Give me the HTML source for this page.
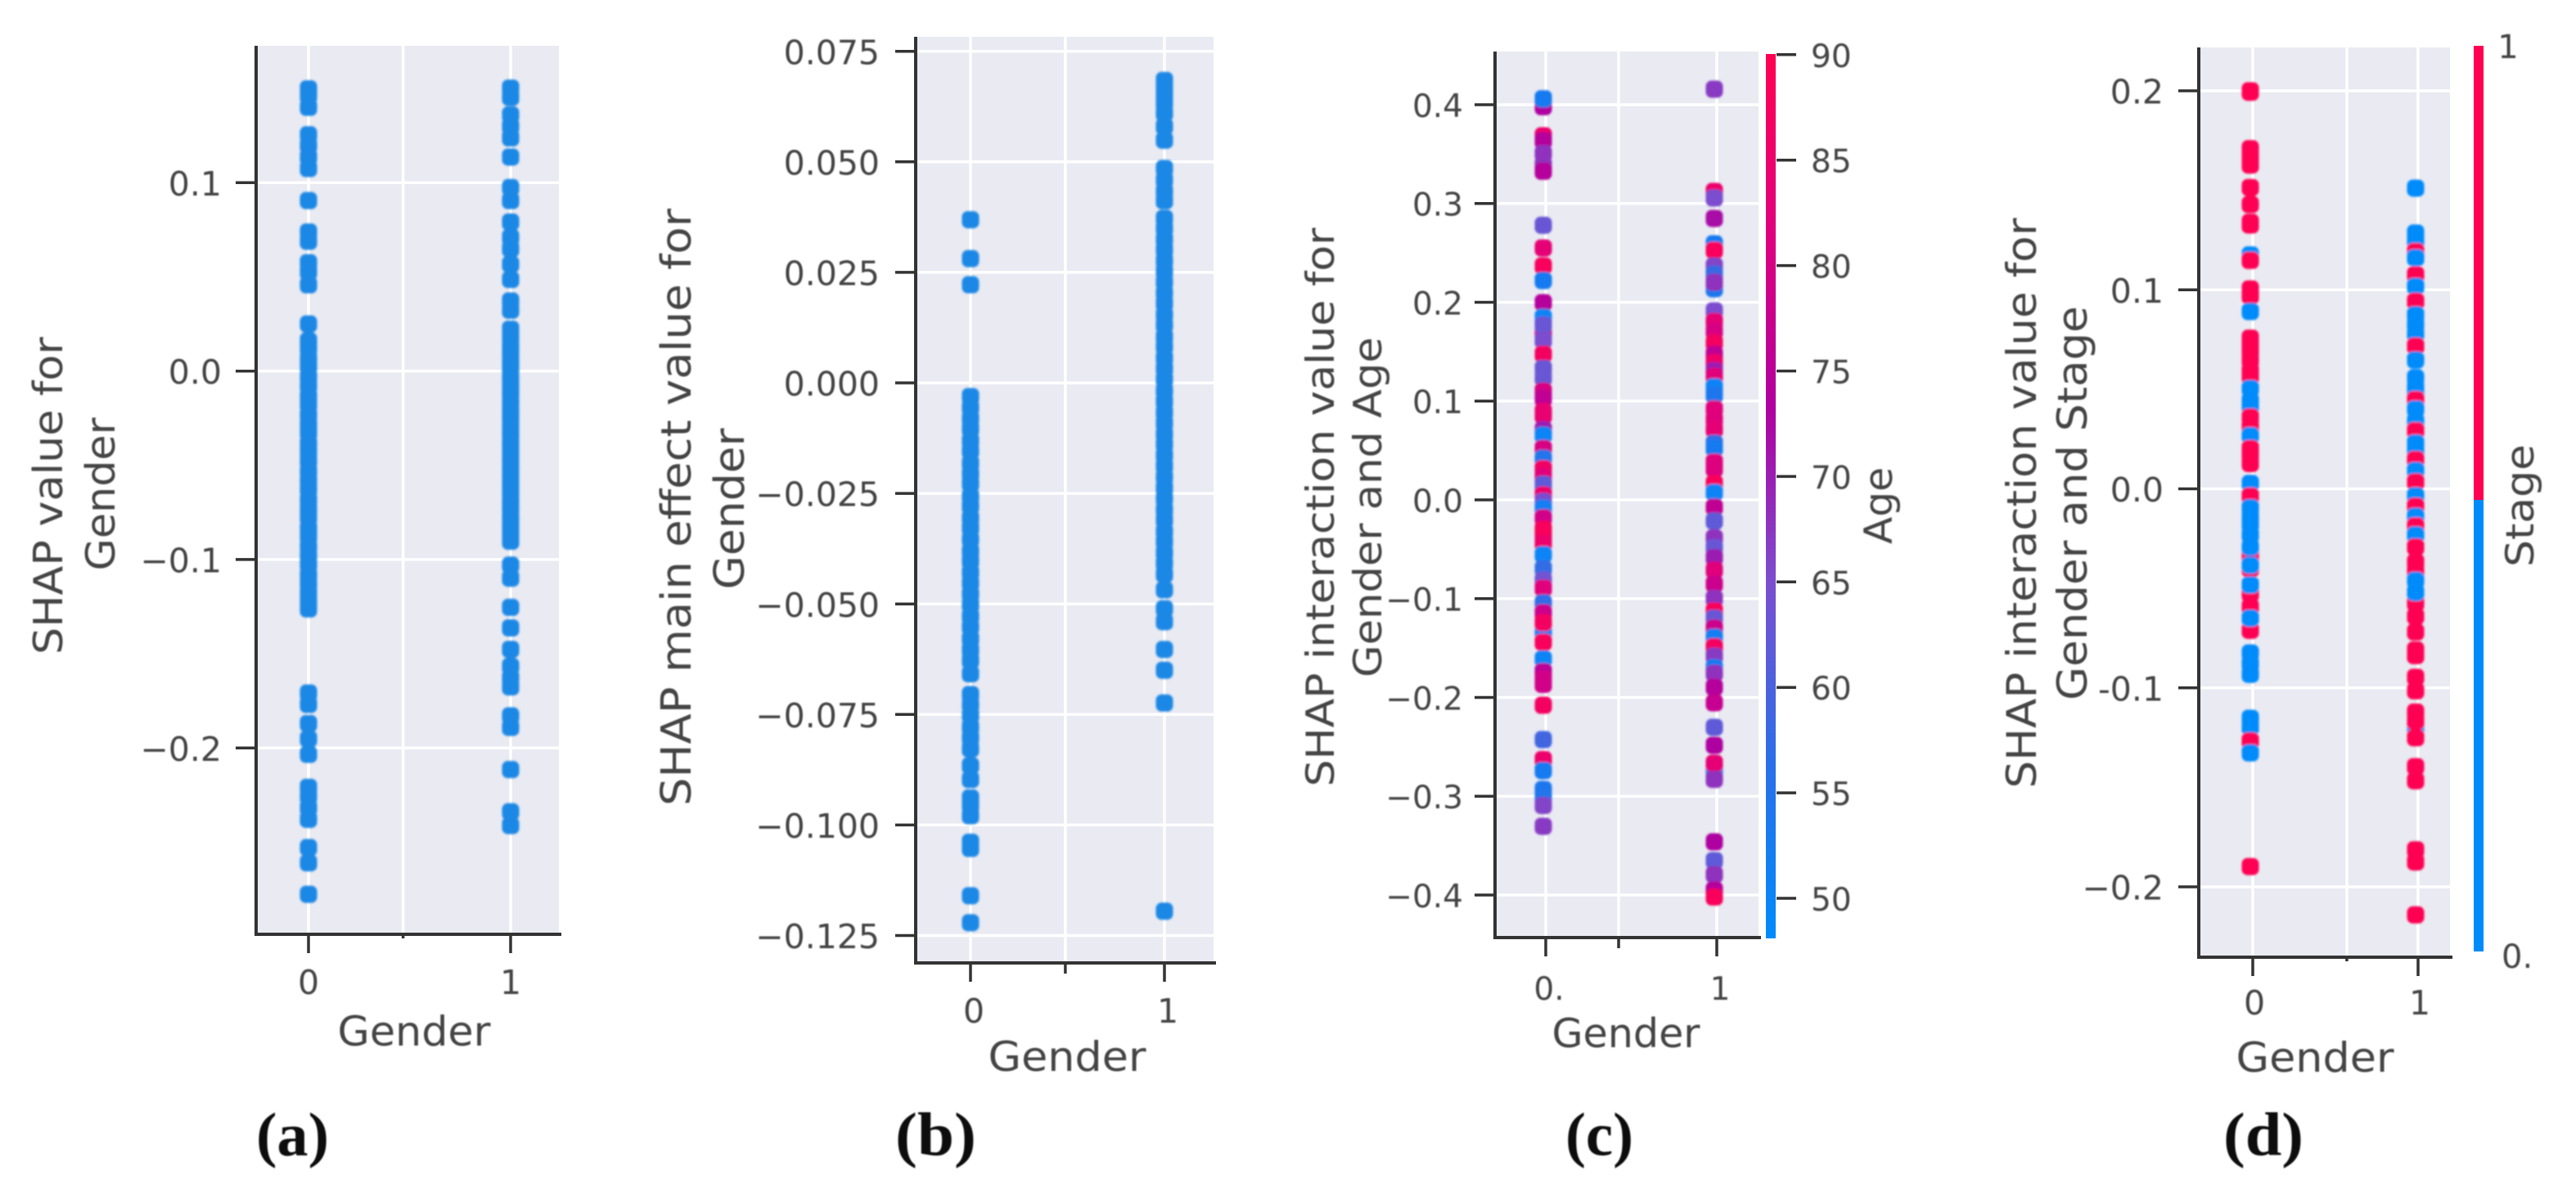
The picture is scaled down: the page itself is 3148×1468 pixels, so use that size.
<!DOCTYPE html>
<html lang="en">
<head>
<meta charset="utf-8">
<title>SHAP dependence plots for Gender</title>
<style>
html,body{margin:0;padding:0;background:#fff;}
svg{display:block;}
text{font-family:"DejaVu Sans","Liberation Sans",sans-serif;fill:#444;}
.caption{font-family:"Liberation Serif",serif;font-weight:bold;fill:#111;font-size:75px;}
</style>
</head>
<body>
<svg id="figure" xmlns="http://www.w3.org/2000/svg" width="3148" height="1468" viewBox="0 0 3148 1468">
  <defs>
    <filter id="markBlur" x="-20%" y="-5%" width="140%" height="110%"><feGaussianBlur stdDeviation="1.3"/></filter>
    <filter id="textBlur" x="-5%" y="-5%" width="110%" height="110%"><feGaussianBlur stdDeviation="0.9"/></filter>
    <linearGradient id="ageGradient" x1="0" y1="1" x2="0" y2="0">
      <stop offset="0" stop-color="#008bfb"/><stop offset="0.2" stop-color="#2a6fe8"/><stop offset="0.4" stop-color="#7a4fcf"/>
      <stop offset="0.6" stop-color="#b0009f"/><stop offset="0.8" stop-color="#e0007d"/><stop offset="1" stop-color="#ff0052"/>
    </linearGradient>
  </defs>
  <g id="layer-a"></g>
  <g id="layer-b"></g>
  <g id="layer-c"></g>
  <g id="layer-d"></g>

  <g filter="url(#textBlur)">
    <text transform="translate(76 606) rotate(-90)" text-anchor="middle" font-size="49" textLength="388" lengthAdjust="spacingAndGlyphs">SHAP value for</text>
    <text transform="translate(140 604) rotate(-90)" text-anchor="middle" font-size="49" textLength="187" lengthAdjust="spacingAndGlyphs">Gender</text>
    <text x="506" y="1278" text-anchor="middle" font-size="50" textLength="187" lengthAdjust="spacingAndGlyphs">Gender</text>
    <text transform="translate(844 620) rotate(-90)" text-anchor="middle" font-size="51" textLength="730" lengthAdjust="spacingAndGlyphs">SHAP main effect value for</text>
    <text transform="translate(909 622) rotate(-90)" text-anchor="middle" font-size="51" textLength="197" lengthAdjust="spacingAndGlyphs">Gender</text>
    <text x="1304" y="1309" text-anchor="middle" font-size="50" textLength="193" lengthAdjust="spacingAndGlyphs">Gender</text>
    <text transform="translate(1630 620) rotate(-90)" text-anchor="middle" font-size="47" textLength="683" lengthAdjust="spacingAndGlyphs">SHAP interaction value for</text>
    <text transform="translate(1688 620) rotate(-90)" text-anchor="middle" font-size="47" textLength="416" lengthAdjust="spacingAndGlyphs">Gender and Age</text>
    <text x="1987" y="1280" text-anchor="middle" font-size="49" textLength="181" lengthAdjust="spacingAndGlyphs">Gender</text>
    <text transform="translate(2312 618) rotate(-90)" text-anchor="middle" font-size="47" textLength="94" lengthAdjust="spacingAndGlyphs">Age</text>
    <text transform="translate(2488 615) rotate(-90)" text-anchor="middle" font-size="50" textLength="697" lengthAdjust="spacingAndGlyphs">SHAP interaction value for</text>
    <text transform="translate(2550 615) rotate(-90)" text-anchor="middle" font-size="50" textLength="482" lengthAdjust="spacingAndGlyphs">Gender and Stage</text>
    <text x="2829" y="1310" text-anchor="middle" font-size="50" textLength="193" lengthAdjust="spacingAndGlyphs">Gender</text>
    <text transform="translate(3096 618) rotate(-90)" text-anchor="middle" font-size="47" textLength="150" lengthAdjust="spacingAndGlyphs">Stage</text>
    <text x="3065" y="71" text-anchor="middle" font-size="40">1</text>
    <text x="3057" y="1183" font-size="40">0.</text>
    <text class="caption" x="313" y="1412" textLength="89" lengthAdjust="spacingAndGlyphs">(a)</text>
    <text class="caption" x="1094" y="1412" textLength="99" lengthAdjust="spacingAndGlyphs">(b)</text>
    <text class="caption" x="1913" y="1412" textLength="83" lengthAdjust="spacingAndGlyphs">(c)</text>
    <text class="caption" x="2717" y="1412" textLength="98" lengthAdjust="spacingAndGlyphs">(d)</text>
  </g>
</svg>

<script>
// ---------- Panel (a) ----------
const aYTicks = [0.1, 0, -0.1, -0.2];
const aYLabels = ["0.1", "0.0", "\u22120.1", "\u22120.2"];
const aXTicks = [0, 0.468, 1];
const aXLabels = ["0", "", "1"];
const aShap0 = [.1498,.1461,.14,.1254,.1197,.1136,.1075,.0905,.0738,.0689,.0575,.0527,.0458,.025,.0161,.0122,.0068,.0023,-.0031,-.0079,-.0134,-.0178,-.0232,-.0281,-.0327,-.0384,-.0429,-.0478,-.0532,-.0581,-.0628,-.0683,-.0731,-.0776,-.0834,-.0879,-.0932,-.0981,-.1027,-.1083,-.1129,-.1178,-.1221,-.1262,-.1709,-.1769,-.1871,-.1952,-.2034,-.2209,-.2258,-.2318,-.2379,-.2529,-.261,-.2777];
const aShap1 = [.1502,.1453,.136,.1299,.1238,.1136,.0974,.0905,.0791,.071,.0649,.0567,.0486,.0372,.0323,.0222,.0179,.0131,.0092,.0048,.0011,-.0037,-.0082,-.0121,-.0168,-.0213,-.0252,-.0297,-.0338,-.0384,-.0428,-.0469,-.0513,-.0558,-.0601,-.0642,-.0688,-.0731,-.0779,-.0821,-.0862,-.0903,-.103,-.1099,-.1254,-.1363,-.1477,-.1567,-.1628,-.1676,-.183,-.1891,-.2115,-.2339,-.2412];

// ---------- Panel (b) ----------
const bYTicks = [0.075, 0.05, 0.025, 0, -0.025, -0.05, -0.075, -0.1, -0.125];
const bYLabels = ["0.075", "0.050", "0.025", "0.000", "\u22120.025", "\u22120.050", "\u22120.075", "\u22120.100", "\u22120.125"];
const bXTicks = [0, 0.489, 1];
const bXLabels = ["0", "", "1"];
const bShap0 = [.0369,.0281,.0222,-.0031,-.0056,-.0081,-.0104,-.0131,-.0154,-.0182,-.0206,-.0228,-.0257,-.0279,-.0306,-.0328,-.0354,-.0381,-.0403,-.0429,-.0453,-.0478,-.0502,-.0528,-.0552,-.0579,-.0604,-.0628,-.0658,-.0705,-.0728,-.0752,-.0779,-.0803,-.0828,-.0866,-.0897,-.0939,-.0956,-.0979,-.1039,-.1053,-.116,-.1221];
const bShap1 = [.0684,.0667,.065,.0632,.061,.058,.0549,.0485,.0459,.0433,.0412,.0372,.0349,.0324,.0301,.0276,.0252,.0228,.0203,.018,.0154,.0131,.0104,.0082,.0056,.0032,.0008,-.0018,-.0042,-.0067,-.0091,-.0116,-.0139,-.0164,-.0188,-.0213,-.0238,-.0262,-.0287,-.031,-.0336,-.0359,-.0384,-.0408,-.0433,-.0468,-.0511,-.054,-.0603,-.065,-.0724,-.1195];

// ---------- Panel (c) ----------
const cYTicks = [0.4, 0.3, 0.2, 0.1, 0, -0.1, -0.2, -0.3, -0.4];
const cYLabels = ["0.4", "0.3", "0.2", "0.1", "0.0", "\u22120.1", "\u22120.2", "\u22120.3", "\u22120.4"];
const cXTicks = [0, 0.426, 1];
const cXLabels = ["0.", "", "1"];
const cShap0 = [.398,.406,.3685,.3636,.3506,.339,.3327,.278,.255,.2368,.222,.1996,.1847,.168,.177,.1615,.1474,.133,.1234,.11,.1027,.0894,.0853,.0712,.0654,.052,.042,.0315,.0229,.0157,.0116,.005,-.0016,-.0083,-.0182,-.0373,-.0298,-.0439,-.0555,-.0696,-.0812,-.0894,-.1043,-.1143,-.1342,-.1242,-.1441,-.1611,-.1739,-.1814,-.1867,-.2079,-.2427,-.2629,-.2741,-.2932,-.3015,-.3094,-.3304];
const cAge0 = [73,53,85,74,68,68,74,63,83,88,53,74,50,78,63,65,87,63,63,80,76,84,84,70,50,80,55,86,82,62,62,85,65,52,79,82,88,85,50,57,64,82,57,78,52,87,88,50,75,79,79,87,59,85,53,54,55,66,67];
const cShap1 = [.4157,.3122,.3056,.2849,.2592,.2526,.2368,.2286,.2137,.2203,.1913,.1805,.1706,.159,.1474,.1391,.1308,.125,.1143,.106,.0919,.0812,.0712,.0571,.0522,.0381,.0315,.0166,.0075,-.0075,-.0215,-.0385,-.0484,-.0585,-.0712,-.0853,-.0998,-.1126,-.1198,-.1298,-.1391,-.1488,-.1582,-.1698,-.1756,-.1896,-.2054,-.2302,-.2484,-.2741,-.2667,-.2829,-.3462,-.3652,-.3793,-.395,-.402];
const cAge1 = [67,85,65,72,53,88,66,58,54,68,65,83,80,87,76,85,70,82,50,54,82,82,83,57,53,82,81,88,50,76,62,68,63,70,82,78,68,88,63,78,52,87,67,53,68,74,77,62,73,55,83,68,73,62,68,74,88];
const ageTicks = [90, 85, 80, 75, 70, 65, 60, 55, 50];

// ---------- Panel (d) ----------
const dYTicks = [0.2, 0.1, 0, -0.1, -0.2];
const dYLabels = ["0.2", "0.1", "0.0", "-0.1", "\u22120.2"];
const dXTicks = [0, 0.569, 1];
const dXLabels = ["0", "", "1"];
const dShap0 = [.1993,.2,.1709,.1668,.1627,.1514,.1429,.1339,.1326,.1175,.1148,.1004,.0969,.0891,.0757,.0723,.0689,.0647,.0593,.0565,.0504,.0442,.0415,.036,.0312,.0267,.0202,.0168,.0127,.0027,-.0037,-.0095,-.0141,-.0179,-.0232,-.0339,-.0293,-.0403,-.0384,-.0528,-.0483,-.0711,-.0594,-.065,-.0825,-.0879,-.0932,-.1153,-.1198,-.1267,-.1327,-.1898];
const dStage0 = [1,1,1,1,1,1,1,1,1,0,1,1,1,0,1,1,1,1,1,1,0,0,0,1,1,0,1,1,1,0,1,0,0,0,0,1,0,1,0,1,0,1,1,0,0,0,0,0,0,1,0,1];
const dShap1 = [.1511,.1285,.1244,.1192,.1161,.1075,.1017,.0942,.0874,.0826,.0778,.0717,.0647,.0558,.051,.047,.0448,.0401,.0339,.0292,.023,.0189,.0147,.0092,.0034,-.0035,-.0088,-.0138,-.0187,-.0232,-.0293,-.0369,-.0415,-.0574,-.046,-.0521,-.0641,-.0719,-.081,-.0838,-.0947,-.1015,-.1203,-.1122,-.1168,-.1251,-.1396,-.1467,-.1814,-.1875,-.2141];
const dStage1 = [0,0,0,1,0,1,0,1,0,0,0,1,0,0,0,0,1,0,0,1,0,0,1,0,1,0,1,0,1,0,1,1,1,1,0,0,1,1,1,1,1,1,0,1,1,1,1,1,1,1,1];

const SVG_NS = "http://www.w3.org/2000/svg";

function svgEl(parent, tag, attrs) {
  const el = document.createElementNS(SVG_NS, tag);
  for (const k in attrs) el.setAttribute(k, attrs[k]);
  parent.appendChild(el);
  return el;
}

function ageColor(age) {
  const t = Math.max(0, Math.min(1, (age - 48) / 42));
  const stops = [[0,0,139,251],[.2,42,111,232],[.4,122,79,207],[.6,176,0,159],[.8,224,0,125],[1,255,0,82]];
  for (let i = 1; i < stops.length; i++) {
    if (t <= stops[i][0]) {
      const a = stops[i - 1], b = stops[i], f = (t - a[0]) / (b[0] - a[0]);
      return "rgb(" + [1, 2, 3].map(j => Math.round(a[j] + (b[j] - a[j]) * f)).join(",") + ")";
    }
  }
  return "#ff0052";
}

function stageColor(stage) {
  return stage ? "#ff0052" : "#008bfb";
}

function flatColor() {
  return "#1e88e5";
}

function drawPanel(id, g, yTicks, yLabels, xTicks, xLabels, series) {
  const layer = document.getElementById(id);
  const yAt = v => g.yZero - v * g.yScale;
  const xAt = v => g.x0 + v * (g.x1 - g.x0);

  const bg = svgEl(layer, "rect", {x: g.left, y: g.top, width: g.right - g.left, height: g.bottom - g.top, fill: "#e9eaf2"});
  
  

  yTicks.forEach((v, i) => {
    const grid = svgEl(layer, "line", {x1: g.left, x2: g.right, y1: yAt(v), y2: yAt(v), stroke: "#fff", "stroke-width": 3.5});
    
    
    const tick = svgEl(layer, "line", {x1: g.left - 25, x2: g.left, y1: yAt(v), y2: yAt(v), stroke: "#333", "stroke-width": 3.5});
    
    
    const label = svgEl(layer, "text", {x: g.labelRight, y: yAt(v) + g.tickFont * 0.38, "text-anchor": "end", "font-size": g.tickFont, filter: "url(#textBlur)"});
    label.textContent = yLabels[i];
    
    
  });

  xTicks.forEach((v, i) => {
    const grid = svgEl(layer, "line", {x1: xAt(v), x2: xAt(v), y1: g.top, y2: g.bottom, stroke: "#fff", "stroke-width": 3.5});
    
    
    const len = xLabels[i] ? 23 : g.midTick;
    const tick = svgEl(layer, "line", {x1: xAt(v), x2: xAt(v), y1: g.bottom, y2: g.bottom + len, stroke: "#333", "stroke-width": 3.5});
    
    
    if (xLabels[i]) {
      const label = svgEl(layer, "text", {x: xAt(v) + g.xLabelShift, y: g.xLabelBase, "text-anchor": "middle", "font-size": g.tickFont, filter: "url(#textBlur)"});
      label.textContent = xLabels[i];
      
      
    }
  });

  const marks = svgEl(layer, "g", {filter: "url(#markBlur)"});
  
  
  series.forEach(s => {
    s.values.forEach((v, i) => {
      const c = svgEl(marks, "rect", {x: xAt(s.gender) + g.markShift - 10.5, y: yAt(v) - 10.5, width: 21, height: 21, rx: 7, ry: 7, fill: s.color(s.colors ? s.colors[i] : 0)});
      
      
    });
  });

  const spineL = svgEl(layer, "line", {x1: g.left, x2: g.left, y1: g.top, y2: g.bottom + 2, stroke: "#333", "stroke-width": 4});
  
  
  const spineB = svgEl(layer, "line", {x1: g.left - 2, x2: g.right + 3, y1: g.bottom, y2: g.bottom, stroke: "#333", "stroke-width": 4});
  
  
}

drawPanel("layer-a", {left: 313, right: 683, top: 56, bottom: 1142, yZero: 453.6, yScale: 2303, x0: 377, x1: 624, labelRight: 271, tickFont: 41, midTick: 5, xLabelBase: 1215, xLabelShift: 0, markShift: 0},
  aYTicks, aYLabels, aXTicks, aXLabels,
  [{gender: 0, values: aShap0, color: flatColor}, {gender: 1, values: aShap1, color: flatColor}]);

drawPanel("layer-b", {left: 1119, right: 1483, top: 45, bottom: 1177, yZero: 468, yScale: 5404, x0: 1186, x1: 1423, labelRight: 1075, tickFont: 41, midTick: 13, xLabelBase: 1250, xLabelShift: 4, markShift: 0},
  bYTicks, bYLabels, bXTicks, bXLabels,
  [{gender: 0, values: bShap0, color: flatColor}, {gender: 1, values: bShap1, color: flatColor}]);

drawPanel("layer-c", {left: 1827, right: 2149, top: 63, bottom: 1146, yZero: 611, yScale: 1207.5, x0: 1889, x1: 2098, labelRight: 1788, tickFont: 39, midTick: 13, xLabelBase: 1222, xLabelShift: 4, markShift: -3},
  cYTicks, cYLabels, cXTicks, cXLabels,
  [{gender: 0, values: cShap0, colors: cAge0, color: ageColor}, {gender: 1, values: cShap1, colors: cAge1, color: ageColor}]);

drawPanel("layer-d", {left: 2687, right: 2994, top: 58, bottom: 1170, yZero: 597.5, yScale: 2432.5, x0: 2753, x1: 2955, labelRight: 2644, tickFont: 41, midTick: 5, xLabelBase: 1240, xLabelShift: 2, markShift: -3},
  dYTicks, dYLabels, dXTicks, dXLabels,
  [{gender: 0, values: dShap0, colors: dStage0, color: stageColor}, {gender: 1, values: dShap1, colors: dStage1, color: stageColor}]);

// ---------- Age colorbar ----------
(function () {
  const layer = document.getElementById("layer-c");
  const ageY = a => 1098 - (a - 50) * 25.78;
  const bar = svgEl(layer, "rect", {x: 2158, y: 66, width: 12, height: 1081, fill: "url(#ageGradient)"});
  
  
  ageTicks.forEach(a => {
    const tick = svgEl(layer, "line", {x1: 2171, x2: 2195, y1: ageY(a), y2: ageY(a), stroke: "#333", "stroke-width": 3.5});
    
    
    const label = svgEl(layer, "text", {x: 2213, y: ageY(a) + 15, "font-size": 39, filter: "url(#textBlur)"});
    label.textContent = String(a);
    
    
  });
})();

// ---------- Stage colorbar ----------
(function () {
  const layer = document.getElementById("layer-d");
  const hi = svgEl(layer, "rect", {x: 3023, y: 56, width: 12, height: 555, fill: "#ff0052"});
  
  
  const lo = svgEl(layer, "rect", {x: 3023, y: 611, width: 12, height: 552, fill: "#008bfb"});
  
  
})();
</script>
</body>
</html>
